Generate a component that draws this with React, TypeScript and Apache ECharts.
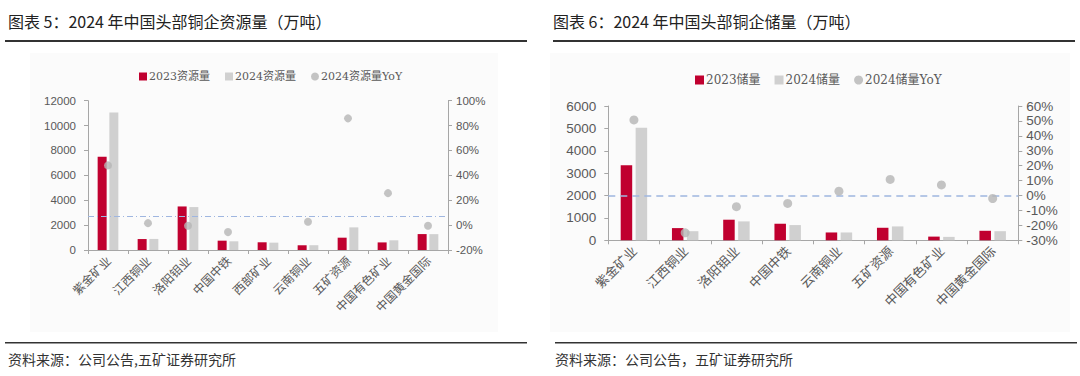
import React, { useEffect, useRef } from "react";
import * as echarts from "echarts";

// ---- Data: chart 5 (resources) ----
const resCategories = ["紫金矿业", "江西铜业", "洛阳钼业", "中国中铁", "西部矿业", "云南铜业", "五矿资源", "中国有色矿业", "中国黄金国际"];
const res2023 = [7500, 880, 3500, 750, 620, 380, 990, 610, 1280];
const res2024 = [11060, 890, 3450, 700, 590, 385, 1820, 780, 1275];
const resYoY: (number | null)[] = [48, 1.6, -0.5, -5.6, null, 2.7, 85.8, 25.7, -0.5];
const resRefLine = 2680;
const resLeftTicks = { min: 0, max: 12000, interval: 2000 };
const resRightTicks = { min: -20, max: 100, interval: 20 };

// ---- Data: chart 6 (reserves) ----
const resvCategories = ["紫金矿业", "江西铜业", "洛阳钼业", "中国中铁", "云南铜业", "五矿资源", "中国有色矿业", "中国黄金国际"];
const resv2023 = [3350, 545, 920, 740, 350, 560, 165, 425];
const resv2024 = [5030, 408, 845, 680, 350, 620, 152, 408];
const resvYoY = [50.7, -25, -7.5, -5.3, 2.9, 10.8, 7.1, -2];
const resvRefLine = 0;
const resvLeftTicks = { min: 0, max: 6000, interval: 1000 };
const resvRightTicks = { min: -30, max: 60, interval: 10 };

const title5 = "图表 5：2024 年中国头部铜企资源量（万吨）";
const title6 = "图表 6：2024 年中国头部铜企储量（万吨）";
const source5 = "资料来源：公司公告,五矿证券研究所";
const source6 = "资料来源：公司公告，五矿证券研究所";
const legend5 = ["2023资源量", "2024资源量", "2024资源量YoY"];
const legend6 = ["2023储量", "2024储量", "2024储量YoY"];

const RED = "#c0002f";
const GRAY = "#d0d0d0";
const DOT = "#b5b5b5";
const AXIS = "#a6a6a6";
const LABEL = "#595959";
const NUMFONT = "'Liberation Sans', Arial, sans-serif";
const CJK = "'Noto Sans CJK SC', sans-serif";

export default function App() {
  const ref = useRef<HTMLDivElement>(null);
  useEffect(() => {
    document.body.style.margin = "0";
    const chart = echarts.init(ref.current!, null, { renderer: "svg" });

    const xAxisBase = (grid: number, cats: string[], fs: number) => ({
      type: "category",
      gridIndex: grid,
      data: cats,
      axisLine: { lineStyle: { color: AXIS, width: 1 } },
      axisTick: { show: true, alignWithLabel: false, length: 4, lineStyle: { color: AXIS } },
      axisLabel: { interval: 0, rotate: 45, color: LABEL, fontSize: fs, fontFamily: CJK, margin: 8 },
    });
    const yAxisBase = (grid: number, t: any, fs: number, pct: boolean, pos: string) => ({
      type: "value",
      gridIndex: grid,
      position: pos,
      min: t.min,
      max: t.max,
      interval: t.interval,
      splitLine: { show: false },
      axisLine: { show: true, lineStyle: { color: AXIS } },
      axisTick: { show: true, length: 4, lineStyle: { color: AXIS } },
      axisLabel: {
        color: LABEL,
        fontSize: fs,
        fontFamily: NUMFONT,
        margin: pos === "left" ? 12 : 8,
        formatter: pct ? (v: number) => Math.round(v) + "%" : (v: number) => String(Math.round(v)),
      },
    });

    const barSeries = (name: string, data: number[], color: string, xi: number, yi: number, w: number) => ({
      name,
      type: "bar",
      xAxisIndex: xi,
      yAxisIndex: yi,
      data,
      barWidth: w,
      barGap: "30%",
      itemStyle: { color },
    });

    const option: any = {
      animation: false,
      grid: [
        { left: 88, top: 100.7, width: 360, height: 149.3 },
        { left: 608.3, top: 106, width: 410, height: 134.3 },
      ],
      legend: [
        {
          data: [
            { name: legend5[0], icon: "rect" },
            { name: legend5[1], icon: "rect" },
            { name: legend5[2], icon: "circle" },
          ],
          left: 134,
          top: 66,
          itemWidth: 8,
          itemHeight: 8,
          itemGap: 15,
          textStyle: { color: LABEL, fontSize: 11, fontFamily: "'DejaVu Serif', " + CJK, padding: [0, 0, 0, -3] },
        },
        {
          data: [
            { name: legend6[0], icon: "rect" },
            { name: legend6[1], icon: "rect" },
            { name: legend6[2], icon: "circle" },
          ],
          left: 690,
          top: 69,
          itemWidth: 9,
          itemHeight: 9,
          itemGap: 14,
          textStyle: { color: LABEL, fontSize: 12, fontFamily: "'DejaVu Serif', " + CJK, padding: [0, 0, 0, -3] },
        },
      ],
      xAxis: [xAxisBase(0, resCategories, 12), xAxisBase(1, resvCategories, 13)],
      yAxis: [
        yAxisBase(0, resLeftTicks, 11.5, false, "left"),
        yAxisBase(0, resRightTicks, 11.5, true, "right"),
        yAxisBase(1, resvLeftTicks, 13.5, false, "left"),
        yAxisBase(1, resvRightTicks, 13.5, true, "right"),
      ],
      series: [
        {
          ...barSeries(legend5[0], res2023, RED, 0, 0, 9),
          markLine: {
            silent: true,
            symbol: "none",
            label: { show: false },
            lineStyle: { color: "#9fb6e0", width: 1.2, type: [6, 3, 1, 3] },
            data: [{ yAxis: resRefLine }],
          },
        },
        barSeries(legend5[1], res2024, GRAY, 0, 0, 9),
        {
          name: legend5[2],
          type: "scatter",
          xAxisIndex: 0,
          yAxisIndex: 1,
          data: resYoY.map((v) => (v === null ? "-" : v)),
          symbolSize: 8,
          itemStyle: { color: DOT },
          z: 5,
        },
        barSeries(legend6[0], resv2023, RED, 1, 2, 11.5),
        barSeries(legend6[1], resv2024, GRAY, 1, 2, 11.5),
        {
          name: legend6[2],
          type: "scatter",
          xAxisIndex: 1,
          yAxisIndex: 3,
          data: resvYoY,
          symbolSize: 9,
          itemStyle: { color: DOT },
          z: 5,
          markLine: {
            silent: true,
            symbol: "none",
            label: { show: false },
            lineStyle: { color: "#9fb6e0", width: 1.5, type: [7, 5] },
            data: [{ yAxis: resvRefLine }],
          },
        },
      ],
      graphic: [
        { type: "rect", z: -10, shape: { x: 30, y: 53, width: 468, height: 279 }, style: { fill: "#fbfbfb" } },
        { type: "rect", z: -10, shape: { x: 550, y: 53, width: 520, height: 279 }, style: { fill: "#fbfbfb" } },
        { type: "text", x: 8, y: 13, style: { text: title5, fill: "#222", font: "16px " + CJK } },
        { type: "text", x: 553, y: 13, style: { text: title6, fill: "#222", font: "16px " + CJK } },
        { type: "rect", shape: { x: 5, y: 40, width: 522, height: 2 }, style: { fill: "#333" } },
        { type: "rect", shape: { x: 553, y: 40, width: 522, height: 2 }, style: { fill: "#333" } },
        { type: "rect", shape: { x: 5, y: 342, width: 522, height: 1.5 }, style: { fill: "#333" } },
        { type: "rect", shape: { x: 555, y: 342, width: 522, height: 1.5 }, style: { fill: "#333" } },
        { type: "text", x: 8, y: 352, style: { text: source5, fill: "#333", font: "14px " + CJK } },
        { type: "text", x: 555, y: 352, style: { text: source6, fill: "#333", font: "14px " + CJK } },
      ],
    };
    chart.setOption(option);
    return () => chart.dispose();
  }, []);
  return <div ref={ref} style={{ position: "absolute", left: 0, top: 0, width: 1080, height: 376 }} />;
}
